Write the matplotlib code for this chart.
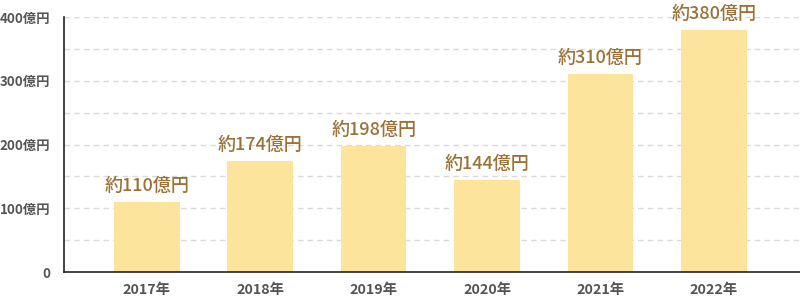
import matplotlib
matplotlib.use('Agg')
import matplotlib.pyplot as plt
import numpy as np

plt.rcParams['font.family'] = ['Noto Sans CJK JP', 'DejaVu Sans']

# data
years = ['2017年', '2018年', '2019年', '2020年', '2021年', '2022年']
values = [110, 174, 198, 144, 310, 380]
labels = ['約110億円', '約174億円', '約198億円', '約144億円', '約310億円', '約380億円']
yticks = [0, 100, 200, 300, 400]
ytick_labels = ['0', '100億円', '200億円', '300億円', '400億円']

fig = plt.figure(figsize=(8, 3), dpi=100)
ax = fig.add_axes([0.08, 0.0933, 0.92, 0.85])

x = np.arange(len(years))
ax.bar(x, values, width=0.58, color='#fde49c', zorder=2)

for xi, v, lab in zip(x, values, labels):
    ax.text(xi, v + 11, lab, ha='center', va='bottom', fontsize=13,
            color='#9b7235', fontweight='medium')

ax.set_xlim(-0.73, 5.76)
ax.set_ylim(0, 400)
ax.set_yticks(yticks)
ax.set_yticklabels(ytick_labels)
ax.set_xticks(x)
ax.set_xticklabels(years)

# dashed grid every 50
for g in range(50, 401, 50):
    ax.axhline(g, color='#d9d9d9', linestyle=(0, (4, 3)), linewidth=1, zorder=1)

for s in ['top', 'right']:
    ax.spines[s].set_visible(False)
ax.spines['left'].set_color('#222222')
ax.spines['bottom'].set_color('#222222')
ax.spines['left'].set_linewidth(1.2)
ax.spines['bottom'].set_linewidth(1.2)

ax.tick_params(axis='x', length=0, labelsize=10.3, labelcolor='#555555', pad=8)
ax.tick_params(axis='y', length=0, labelsize=9.6, labelcolor='#555555', pad=10)
for t in ax.get_xticklabels() + ax.get_yticklabels():
    t.set_fontweight('bold')

fig.savefig('out.png', dpi=100)
